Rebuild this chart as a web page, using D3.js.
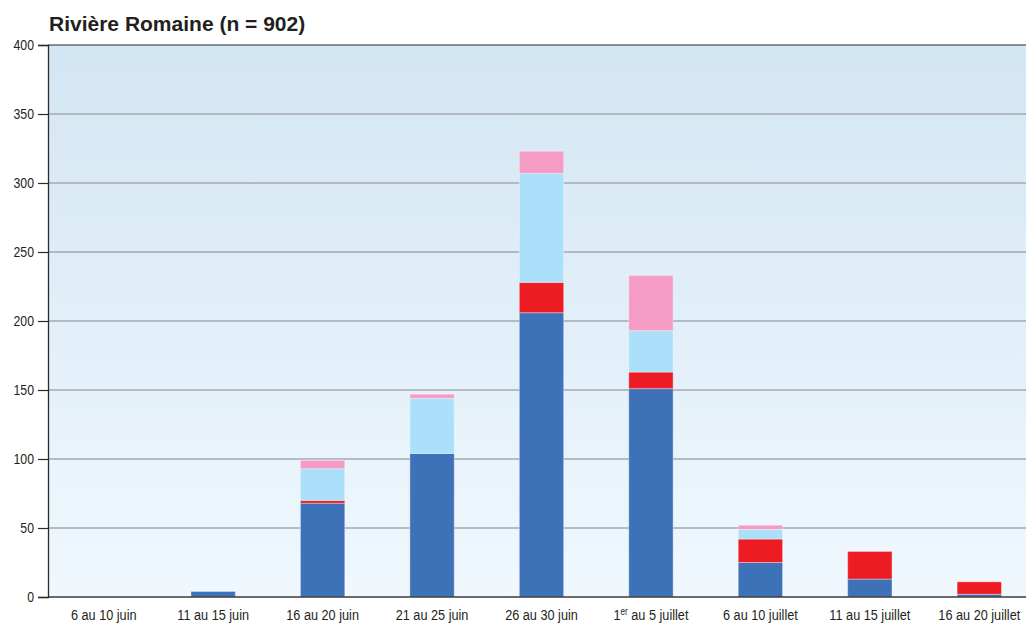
<!DOCTYPE html>
<html>
<head>
<meta charset="utf-8">
<script src="https://cdn.jsdelivr.net/npm/d3@7"></script>
<style>
  html, body { margin: 0; padding: 0; background: #ffffff; }
  svg { display: block; }
  .cond { font-family: "Liberation Sans", Arial, sans-serif; }
</style>
</head>
<body>
<svg id="chart" width="1026" height="626"></svg>
<script>
// Five-day periods, June–July
const categories = [
  "6 au 10 juin", "11 au 15 juin", "16 au 20 juin", "21 au 25 juin",
  "26 au 30 juin", "1er au 5 juillet", "6 au 10 juillet",
  "11 au 15 juillet", "16 au 20 juillet"
];

// Stacked series, bottom to top
const seriesBlue      = [0, 4, 68, 104, 206, 151, 25, 13, 2];
const seriesRed       = [0, 0, 2, 0, 22, 12, 17, 20, 9];
const seriesLightBlue = [0, 0, 23, 40, 79, 30, 7, 0, 0];
const seriesPink      = [0, 0, 6, 3, 16, 40, 3, 0, 0];

const seriesKeys   = ["blue", "red", "lightBlue", "pink"];
const seriesColors = ["#3d72b9", "#ed1c24", "#abe0fa", "#f49cc4"];

const yTicks = [0, 50, 100, 150, 200, 250, 300, 350, 400];
const titleText = "Rivière Romaine (n = 902)";

const rows = categories.map((c, i) => ({
  category: c,
  blue: seriesBlue[i],
  red: seriesRed[i],
  lightBlue: seriesLightBlue[i],
  pink: seriesPink[i]
}));

const svg = d3.select("#chart");
const W = 1026, H = 626;
const plot = { left: 48, top: 45, right: 1034, bottom: 597 };
const squeeze = 0.82; // horizontal condensing of axis labels

const x = d3.scaleBand()
  .domain(categories)
  .range([plot.left + 1, plot.right])
  .paddingInner(0.595)
  .paddingOuter(0.2975);

const y = d3.scaleLinear().domain([0, 400]).range([plot.bottom, plot.top]);

// Background gradient of the plotting area
const defs = svg.append("defs");
const grad = defs.append("linearGradient")
  .attr("id", "plotBg").attr("x1", 0).attr("y1", 0).attr("x2", 0).attr("y2", 1);
grad.append("stop").attr("offset", "0%").attr("stop-color", "#d3e6f3");
grad.append("stop").attr("offset", "100%").attr("stop-color", "#f0f8fe");

svg.append("rect")
  .attr("x", plot.left).attr("y", plot.top)
  .attr("width", plot.right - plot.left).attr("height", plot.bottom - plot.top)
  .attr("fill", "url(#plotBg)");

// Horizontal grid lines
svg.append("g")
  .selectAll("line")
  .data(yTicks.filter(t => t > 0 && t < 400))
  .join("line")
  .attr("x1", plot.left).attr("x2", W)
  .attr("y1", d => y(d)).attr("y2", d => y(d))
  .attr("stroke", "#a6a8ad").attr("stroke-width", 1.5);

// Stacked bars
const stacked = d3.stack().keys(seriesKeys)(rows);

svg.append("g")
  .selectAll("g")
  .data(stacked)
  .join("g")
  .attr("fill", (d, i) => seriesColors[i])
  .selectAll("rect")
  .data(d => d.filter(s => s[1] - s[0] > 0))
  .join("rect")
  .attr("x", d => x(d.data.category))
  .attr("width", x.bandwidth())
  .attr("y", d => y(d[1]))
  .attr("height", d => y(d[0]) - y(d[1]))
  .attr("stroke", "rgba(255,255,255,0.35)")
  .attr("stroke-width", 1);

// Frame: top and bottom lines
svg.append("line")
  .attr("x1", plot.left).attr("x2", W)
  .attr("y1", plot.top).attr("y2", plot.top)
  .attr("stroke", "#2b2b2b").attr("stroke-width", 1.2);
svg.append("line")
  .attr("x1", plot.left).attr("x2", W)
  .attr("y1", plot.bottom).attr("y2", plot.bottom)
  .attr("stroke", "#3a3a3a").attr("stroke-width", 1.5);

// Y axis
const yAxis = svg.append("g")
  .attr("class", "cond")
  .attr("transform", `translate(${plot.left},0)`)
  .call(d3.axisLeft(y).tickValues(yTicks).tickSize(10).tickPadding(4));
yAxis.select(".domain").attr("stroke", "#2b2b2b").attr("stroke-width", 1.3);
yAxis.selectAll(".tick line").attr("stroke", "#2b2b2b").attr("stroke-width", 1.2);
yAxis.selectAll(".tick text")
  .attr("font-family", null)
  .attr("font-size", 15)
  .attr("fill", "#231f20")
  .attr("x", -14 / squeeze)
  .attr("transform", `scale(${squeeze},1)`);

// X axis labels
const xAxis = svg.append("g")
  .attr("class", "cond")
  .attr("transform", `translate(0,${plot.bottom})`)
  .call(d3.axisBottom(x).tickSize(0).tickPadding(12));
xAxis.select(".domain").remove();
xAxis.selectAll(".tick text")
  .attr("font-family", null)
  .attr("font-size", 15.5)
  .attr("fill", "#231f20")
  .attr("dy", "0.71em")
  .attr("transform", `scale(${squeeze},1)`)
  .each(function (d) {
    const m = d.match(/^(\d+)(er)(.*)$/);
    if (m) {
      const t = d3.select(this).text("");
      t.append("tspan").text(m[1]);
      t.append("tspan").attr("font-size", 10).attr("dy", -5).text(m[2]);
      t.append("tspan").attr("dy", 5).text(m[3]);
    }
  });

// Title
svg.append("text")
  .attr("x", 49).attr("y", 31)
  .attr("font-family", "'Liberation Sans', Arial, sans-serif")
  .attr("font-weight", "bold")
  .attr("font-size", 21)
  .attr("fill", "#231f20")
  .text(titleText);
</script>
</body>
</html>
